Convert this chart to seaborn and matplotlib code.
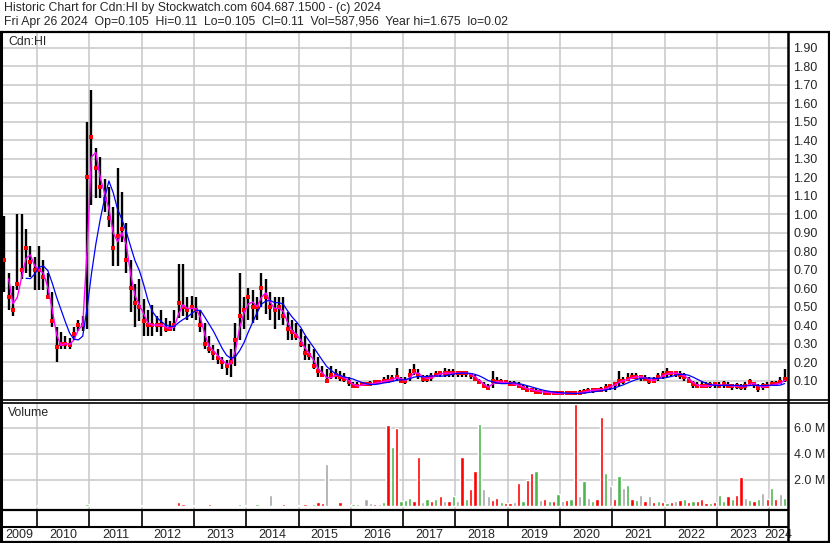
import numpy as np
import pandas as pd
import matplotlib.pyplot as plt
import seaborn as sns
from matplotlib.lines import Line2D

sns.set_style("white")
plt.rcParams['font.family'] = ['Liberation Sans', 'DejaVu Sans']

# ----------------------------------------------------------
# data: monthly bars, May 2009 .. Apr 2024
# ----------------------------------------------------------
first_year, first_month = 2009, 5

high = [
    0.99, 0.68, 0.61, 1.00, 1.00, 0.92, 0.83, 0.77,                    # 2009
    0.83, 0.75, 0.68, 0.58, 0.39, 0.36, 0.34, 0.33, 0.39, 0.43, 0.45, 1.50,  # 2010
    1.67, 1.36, 1.31, 1.19, 1.15, 1.04, 1.25, 1.12, 0.95, 0.75, 0.62, 0.65,  # 2011
    0.54, 0.48, 0.51, 0.45, 0.48, 0.44, 0.42, 0.48, 0.73, 0.73, 0.55, 0.56,  # 2012
    0.55, 0.48, 0.41, 0.34, 0.29, 0.27, 0.23, 0.21, 0.27, 0.41, 0.68, 0.55,  # 2013
    0.60, 0.59, 0.55, 0.68, 0.65, 0.58, 0.55, 0.55, 0.55, 0.47, 0.43, 0.41,  # 2014
    0.38, 0.34, 0.30, 0.27, 0.23, 0.18, 0.16, 0.18, 0.16, 0.15, 0.14, 0.12,  # 2015
    0.09, 0.09, 0.09, 0.09, 0.10, 0.10, 0.10, 0.12, 0.13, 0.13, 0.17, 0.12,  # 2016
    0.12, 0.16, 0.19, 0.16, 0.13, 0.13, 0.14, 0.15, 0.15, 0.17, 0.16, 0.16,  # 2017
    0.15, 0.15, 0.15, 0.14, 0.13, 0.11, 0.09, 0.08, 0.15, 0.12, 0.11, 0.10,  # 2018
    0.10, 0.10, 0.09, 0.08, 0.07, 0.06, 0.06, 0.05, 0.05, 0.045, 0.045, 0.045,  # 2019
    0.045, 0.045, 0.04, 0.045, 0.05, 0.055, 0.06, 0.06, 0.06, 0.065, 0.08, 0.08,  # 2020
    0.09, 0.15, 0.12, 0.14, 0.14, 0.14, 0.13, 0.13, 0.12, 0.12, 0.14, 0.15,  # 2021
    0.17, 0.15, 0.15, 0.15, 0.14, 0.12, 0.10, 0.09, 0.09, 0.09, 0.09, 0.09,  # 2022
    0.09, 0.10, 0.09, 0.08, 0.085, 0.08, 0.09, 0.11, 0.09, 0.08, 0.085, 0.09,  # 2023
    0.10, 0.10, 0.12, 0.16,                                            # 2024
]
low = [
    0.58, 0.48, 0.45, 0.59, 0.65, 0.68, 0.66, 0.59,
    0.59, 0.59, 0.54, 0.39, 0.20, 0.27, 0.27, 0.27, 0.32, 0.37, 0.37, 0.38,
    1.05, 1.09, 1.09, 1.01, 0.93, 0.72, 0.72, 0.85, 0.68, 0.47, 0.39, 0.42,
    0.34, 0.34, 0.34, 0.36, 0.34, 0.36, 0.37, 0.37, 0.44, 0.45, 0.43, 0.44,
    0.43, 0.36, 0.27, 0.25, 0.21, 0.19, 0.16, 0.13, 0.12, 0.18, 0.32, 0.38,
    0.43, 0.41, 0.43, 0.50, 0.46, 0.43, 0.38, 0.43, 0.40, 0.32, 0.32, 0.32,
    0.28, 0.21, 0.21, 0.16, 0.12, 0.12, 0.09, 0.11, 0.11, 0.10, 0.09, 0.07,
    0.06, 0.06, 0.07, 0.07, 0.07, 0.08, 0.08, 0.09, 0.09, 0.09, 0.10, 0.09,
    0.08, 0.10, 0.13, 0.11, 0.09, 0.09, 0.10, 0.12, 0.12, 0.12, 0.12, 0.12,
    0.12, 0.12, 0.12, 0.11, 0.10, 0.08, 0.06, 0.05, 0.06, 0.08, 0.08, 0.08,
    0.07, 0.07, 0.06, 0.05, 0.04, 0.04, 0.03, 0.03, 0.03, 0.025, 0.025, 0.025,
    0.025, 0.025, 0.02, 0.02, 0.03, 0.03, 0.035, 0.035, 0.04, 0.04, 0.04, 0.05,
    0.05, 0.07, 0.08, 0.10, 0.11, 0.11, 0.10, 0.10, 0.08, 0.09, 0.10, 0.11,
    0.12, 0.12, 0.12, 0.11, 0.10, 0.09, 0.06, 0.06, 0.06, 0.06, 0.06, 0.06,
    0.06, 0.06, 0.06, 0.05, 0.055, 0.05, 0.05, 0.07, 0.06, 0.04, 0.05, 0.06,
    0.07, 0.07, 0.08, 0.09,
]
close = [
    0.75, 0.55, 0.48, 0.62, 0.70, 0.82, 0.74, 0.70,
    0.70, 0.66, 0.55, 0.42, 0.28, 0.30, 0.30, 0.29, 0.35, 0.40, 0.40, 1.20,
    1.42, 1.25, 1.15, 1.08, 0.98, 0.82, 0.88, 0.92, 0.75, 0.60, 0.52, 0.50,
    0.42, 0.40, 0.40, 0.40, 0.40, 0.38, 0.38, 0.40, 0.52, 0.50, 0.48, 0.50,
    0.48, 0.40, 0.30, 0.27, 0.25, 0.22, 0.20, 0.18, 0.20, 0.32, 0.45, 0.48,
    0.55, 0.50, 0.50, 0.60, 0.55, 0.50, 0.48, 0.50, 0.45, 0.38, 0.36, 0.34,
    0.30, 0.25, 0.24, 0.18, 0.15, 0.13, 0.10, 0.13, 0.13, 0.12, 0.11, 0.09,
    0.07, 0.07, 0.08, 0.08, 0.08, 0.09, 0.09, 0.10, 0.10, 0.11, 0.12, 0.10,
    0.10, 0.13, 0.15, 0.13, 0.11, 0.11, 0.12, 0.13, 0.14, 0.14, 0.14, 0.14,
    0.14, 0.14, 0.14, 0.13, 0.11, 0.09, 0.07, 0.06, 0.10, 0.09, 0.09, 0.09,
    0.08, 0.08, 0.07, 0.06, 0.05, 0.05, 0.04, 0.04, 0.035, 0.035, 0.03, 0.03,
    0.03, 0.03, 0.03, 0.03, 0.035, 0.04, 0.045, 0.05, 0.05, 0.05, 0.06, 0.07,
    0.08, 0.10, 0.10, 0.11, 0.12, 0.12, 0.12, 0.11, 0.10, 0.10, 0.12, 0.13,
    0.14, 0.14, 0.14, 0.13, 0.12, 0.10, 0.08, 0.07, 0.07, 0.07, 0.075, 0.08,
    0.07, 0.08, 0.07, 0.07, 0.07, 0.065, 0.07, 0.09, 0.08, 0.06, 0.07, 0.07,
    0.08, 0.08, 0.09, 0.11,
]
# volume in millions (largest day of the month) and bar colour r/g/n(eutral)
volume = [
    0.05, 0.03, 0.04, 0.06, 0.03, 0.05, 0.04, 0.03,
    0.04, 0.03, 0.05, 0.04, 0.08, 0.03, 0.04, 0.05, 0.03, 0.04, 0.06, 0.15,
    0.10, 0.06, 0.05, 0.04, 0.06, 0.03, 0.05, 0.04, 0.03, 0.05, 0.06, 0.04,
    0.05, 0.04, 0.03, 0.05, 0.04, 0.03, 0.04, 0.06, 0.30, 0.12, 0.05, 0.06,
    0.06, 0.05, 0.04, 0.15, 0.06, 0.05, 0.04, 0.08, 0.05, 0.06, 0.15, 0.10,
    0.10, 0.06, 0.12, 0.08, 0.05, 0.85, 0.06, 0.05, 0.15, 0.06, 0.04, 0.05,
    0.08, 0.12, 0.10, 0.15, 0.30, 0.20, 3.20, 0.08, 0.05, 0.30, 0.06, 0.05,
    0.15, 0.15, 0.10, 0.50, 0.20, 0.15, 0.12, 0.30, 6.20, 4.50, 6.00, 0.40,
    0.45, 0.60, 0.40, 3.80, 0.30, 0.55, 0.35, 0.50, 0.75, 0.40, 0.35, 0.80,
    0.40, 3.80, 0.50, 1.30, 2.70, 6.30, 1.30, 0.80, 0.45, 0.60, 0.30, 0.25,
    0.20, 0.30, 1.75, 0.40, 2.00, 2.50, 2.70, 0.45, 0.50, 0.40, 0.35, 0.90,
    0.40, 0.45, 0.50, 7.85, 0.80, 1.90, 0.60, 0.40, 0.50, 6.85, 2.50, 1.50,
    0.50, 2.30, 1.40, 1.60, 0.50, 0.45, 0.85, 0.40, 0.80, 0.30, 0.35, 0.30,
    0.25, 0.30, 0.35, 0.45, 0.55, 0.30, 0.35, 0.40, 0.50, 0.25, 0.20, 0.30,
    0.85, 0.40, 0.75, 0.50, 0.85, 2.20, 0.60, 0.45, 0.40, 0.50, 1.00, 0.50,
    1.40, 0.50, 0.90, 0.60,
]
vol_color = ("rrgrrgrr" + "rgrrrrgrrgrg" + "grrnrrgrrrrg" + "rrgrrgrrrrng"
             + "rrrrgrgrrrgg" + "rggrrnrrrgrg" + "rrrgrrnrrrrr" + "gggnnrngrgrg"
             + "ggrrngrgrnrg" + "nrgrrgnnrrgr" + "rnrgrrgnrgrg" + "nrgrngngrrgn"
             + "rgngrgnrnrgr" + "grnrgrgrrrgr" + "ggrgrrngrgnr" + "grng")

years = list(range(2009, 2025))
price_ticks = [round(0.1 * k, 2) for k in range(1, 20)]
vol_ticks = [2, 4, 6]
vol_tick_labels = ["2.0 M", "4.0 M", "6.0 M"]
title1 = "Historic Chart for Cdn:HI by Stockwatch.com 604.687.1500 - (c) 2024"
title2 = ("Fri Apr 26 2024  Op=0.105  Hi=0.11  Lo=0.105  Cl=0.11  "
          "Vol=587,956  Year hi=1.675  lo=0.02")

# ----------------------------------------------------------
n = len(close)
t = first_year + (np.arange(n) + first_month - 1 + 0.5) / 12
df = pd.DataFrame({'t': t, 'high': high, 'low': low, 'close': close,
                   'vol': volume, 'vc': list(vol_color)})
df['ma_fast'] = df['close'].rolling(2).mean()
df['ma_slow'] = df['close'].rolling(6).mean()

W, H = 830, 543
XMIN, XMAX = 2009.313, 2024.357
GRID = '#c8c8c8'
colmap = {'r': '#ff0000', 'g': '#4cb84c', 'n': '#a6a6a6'}


def fx(x):
    return x / W


def fy(y):
    return 1 - y / H


fig = plt.figure(figsize=(W / 100, H / 100), dpi=100)
fig.patch.set_facecolor('white')

# --- price panel
ax = fig.add_axes([fx(1), fy(399), (788 - 1) / W, (399 - 33) / H])
ax.vlines(df['t'], df['low'], df['high'], color='black', lw=1.7, zorder=3)
sns.scatterplot(x=df['t'], y=df['close'], marker='s', color='red', s=7,
                linewidth=0, ax=ax, zorder=4)
sns.lineplot(data=df, x='t', y='ma_fast', color='#ff00ff', lw=1.0,
             estimator=None, ax=ax, zorder=5)
sns.lineplot(data=df, x='t', y='ma_slow', color='#0000ff', lw=0.9,
             estimator=None, ax=ax, zorder=5)
ax.set_xlim(XMIN, XMAX)
ax.set_ylim(0.0, 1.981)
ax.set_xticks(years[1:])
ax.set_yticks(price_ticks)
ax.set_yticklabels([f"{v:.2f}" for v in price_ticks])
ax.yaxis.tick_right()
ax.tick_params(axis='y', length=0, pad=4, labelsize=9)
ax.tick_params(axis='x', length=0, labelbottom=False)
ax.grid(True, color=GRID, lw=1.1)
ax.set_axisbelow(True)
ax.set_xlabel('')
ax.set_ylabel('')
for s in ax.spines.values():
    s.set_visible(False)
ax.text(fx(8), fy(42), "Cdn:HI", transform=fig.transFigure, fontsize=8.8,
        va='center', ha='left')

# --- volume panel
axv = fig.add_axes([fx(1), fy(510), (788 - 1) / W, (510 - 403) / H])
axv.bar(df['t'], df['vol'], width=0.75 / 12,
        color=[colmap[c] for c in df['vc']], zorder=3)
axv.set_xlim(XMIN, XMAX)
axv.set_ylim(-0.31, 7.92)
axv.set_xticks(years[1:])
axv.set_yticks(vol_ticks)
axv.set_yticklabels(vol_tick_labels)
axv.yaxis.tick_right()
axv.tick_params(axis='y', length=0, pad=4, labelsize=9)
axv.tick_params(axis='x', length=0, labelbottom=False)
axv.grid(True, color=GRID, lw=1.1)
axv.set_axisbelow(True)
for s in axv.spines.values():
    s.set_visible(False)
fig.text(fx(8), fy(413), "Volume", fontsize=8.8, va='center', ha='left')

# --- year strip
axx = fig.add_axes([fx(1), fy(542), (788 - 1) / W, (542 - 510) / H])
axx.set_xlim(XMIN, XMAX)
axx.set_ylim(32, 0)
axx.vlines(years[1:], 0, 17, color='black', lw=1.2)
axx.axhline(17, color='black', lw=1.5)
for yr in years:
    c = (max(yr, XMIN) + min(yr + 1, XMAX)) / 2
    axx.text(c, 25, str(yr), ha='center', va='center', fontsize=9)
axx.axis('off')

# --- frame
def hline(y, x0=0, x1=W, lw=1.6):
    fig.add_artist(Line2D([fx(x0), fx(x1)], [fy(y), fy(y)], color='black',
                          lw=lw, transform=fig.transFigure))


def vline(x, y0, y1, lw=1.6):
    fig.add_artist(Line2D([fx(x), fx(x)], [fy(y0), fy(y1)], color='black',
                          lw=lw, transform=fig.transFigure))


hline(32)
hline(400, lw=1.2)
hline(402.5, lw=1.2)
hline(510, 0, 788)
hline(542)
vline(1, 32, 543, lw=2.2)
vline(788, 32, 543, lw=1.8)
vline(829, 32, 543)

fig.text(fx(4), fy(8), title1, fontsize=8.8, va='center', ha='left')
fig.text(fx(4), fy(21.5), title2, fontsize=8.8, va='center', ha='left')

fig.savefig('out.png', dpi=100)
